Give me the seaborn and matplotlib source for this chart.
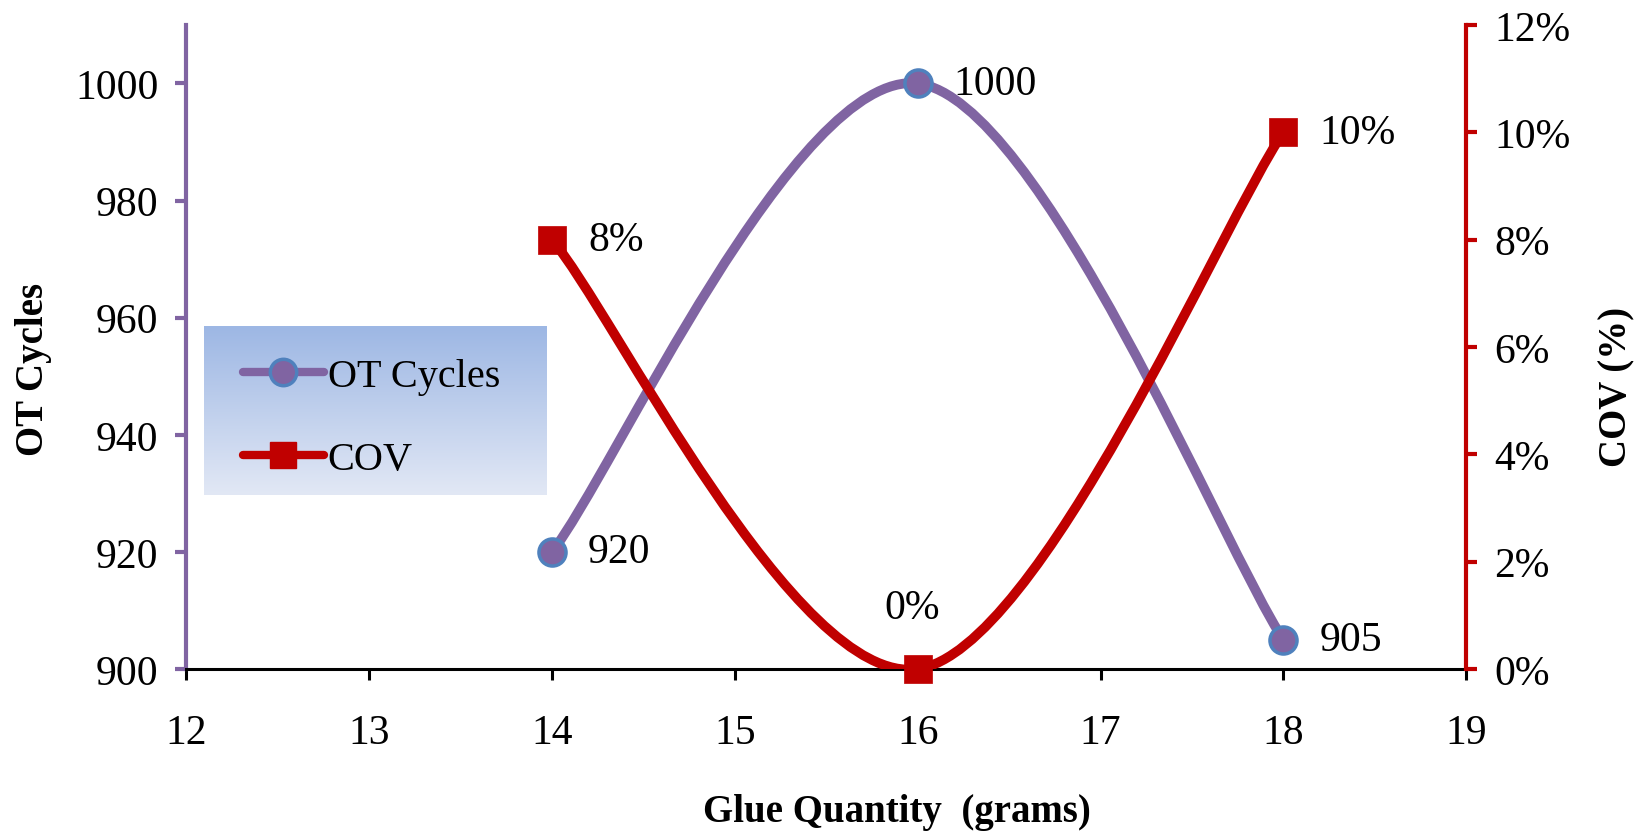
import numpy as np
import matplotlib
matplotlib.use("Agg")
import matplotlib.pyplot as plt
import seaborn as sns
import pandas as pd
from matplotlib.path import Path
from matplotlib.patches import PathPatch
from matplotlib.lines import Line2D
from matplotlib.ticker import PercentFormatter

# --- data ---
glue_grams = [14, 16, 18]
ot_cycles = [920, 1000, 905]
cov = [0.08, 0.00, 0.10]
cycle_labels = ["920", "1000", "905"]
cov_labels = ["8%", "0%", "10%"]
x_ticks = [12, 13, 14, 15, 16, 17, 18, 19]
cycle_ticks = [900, 920, 940, 960, 980, 1000]
cov_ticks = [0.00, 0.02, 0.04, 0.06, 0.08, 0.10, 0.12]

PURPLE = "#8064A2"
EDGE_BLUE = "#4F81BD"
RED = "#C00000"
FS = 30
LABEL_FS = 28

sns.set_theme(style="white")
plt.rcParams["font.family"] = ["Liberation Serif", "DejaVu Serif"]
plt.rcParams.update({
    "text.color": "black",
    "axes.labelcolor": "black",
    "xtick.color": "black",
    "ytick.color": "black",
})


def smooth_path(xs, ys):
    """Cubic Bezier path through the points (Catmull-Rom style smoothing)."""
    pts = np.column_stack([xs, ys]).astype(float)
    n = len(pts)
    verts = [pts[0]]
    codes = [Path.MOVETO]
    for i in range(n - 1):
        p_prev = pts[max(i - 1, 0)]
        p0, p1 = pts[i], pts[i + 1]
        p_next = pts[min(i + 2, n - 1)]
        c1 = p0 + (p1 - p_prev) / 6.0
        c2 = p1 - (p_next - p0) / 6.0
        verts += [c1, c2, p1]
        codes += [Path.CURVE4] * 3
    return Path(verts, codes)


df = pd.DataFrame({"glue": glue_grams, "cycles": ot_cycles, "cov": cov})

fig = plt.figure(figsize=(16.42, 8.37), dpi=100)
ax = fig.add_axes([0.1134, 0.1995, 0.7796, 0.7695])
ax2 = ax.twinx()

# OT cycles curve and markers
ax.add_patch(PathPatch(smooth_path(glue_grams, ot_cycles), facecolor="none",
                       edgecolor=PURPLE, lw=7, capstyle="round", zorder=2))
sns.scatterplot(data=df, x="glue", y="cycles", ax=ax, s=19.5 ** 2,
                color=PURPLE, edgecolor=EDGE_BLUE, linewidth=2.5, zorder=3,
                legend=False, clip_on=False)

# COV curve and markers (drawn above the cycles axis)
ax2.add_patch(PathPatch(smooth_path(glue_grams, cov), facecolor="none",
                        edgecolor=RED, lw=7, capstyle="round", zorder=2))
sns.scatterplot(data=df, x="glue", y="cov", ax=ax2, s=20 ** 2, marker="s",
                color=RED, edgecolor=RED, linewidth=0.5, zorder=3, legend=False,
                clip_on=False)

# value labels
for xv, yv, lab in zip(glue_grams, ot_cycles, cycle_labels):
    ax.annotate(lab, (xv, yv), xytext=(26, 0), textcoords="offset points",
                ha="left", va="center", fontsize=FS, color="black")
for xv, yv, lab in zip(glue_grams, cov, cov_labels):
    if yv == 0:
        ax2.annotate(lab, (xv, yv), xytext=(-4, 44), textcoords="offset points",
                     ha="center", va="center", fontsize=FS, color="black")
    else:
        ax2.annotate(lab, (xv, yv), xytext=(26, 0), textcoords="offset points",
                     ha="left", va="center", fontsize=FS, color="black")

# axes limits and ticks
ax.set_xlim(12, 19)
ax.set_ylim(900, 1010)
ax2.set_ylim(0, 0.12)
ax.set_xticks(x_ticks)
ax.set_yticks(cycle_ticks)
ax2.set_yticks(cov_ticks)
ax2.yaxis.set_major_formatter(PercentFormatter(xmax=1, decimals=0))

ax.set_xlabel("Glue Quantity  (grams)", fontsize=LABEL_FS, fontweight="bold")
ax.set_ylabel("OT Cycles", fontsize=LABEL_FS, fontweight="bold")
ax2.set_ylabel("COV (%)", fontsize=LABEL_FS, fontweight="bold", rotation=90)
ax.xaxis.set_label_coords(0.555, -0.193)
ax.yaxis.set_label_coords(-0.105, 0.467)
ax2.yaxis.set_label_coords(1.103, 0.44)

for a in (ax, ax2):
    a.grid(False)
    a.set_facecolor("none")
    for s in a.spines.values():
        s.set_visible(False)

ax.spines["left"].set_visible(True)
ax.spines["left"].set_color(PURPLE)
ax.spines["left"].set_linewidth(3)
ax.spines["bottom"].set_visible(True)
ax.spines["bottom"].set_color("black")
ax.spines["bottom"].set_linewidth(2.2)
ax2.spines["right"].set_visible(True)
ax2.spines["right"].set_color(RED)
ax2.spines["right"].set_linewidth(3)

ax.tick_params(axis="y", direction="out", length=8, width=3, color=PURPLE,
               labelcolor="black", labelsize=FS, pad=12, left=True)
ax.tick_params(axis="x", direction="out", length=8, width=2.2, color="black",
               labelcolor="black", labelsize=FS, pad=24, bottom=True)
ax2.tick_params(axis="y", direction="out", length=8, width=3, color=RED,
                labelcolor="black", labelsize=FS, pad=12, right=True)

# legend on a gradient panel
leg_ax = fig.add_axes([204 / 1642, 1 - 496 / 837, 342 / 1642, 169 / 837])
top_rgb = np.array([157, 183, 228]) / 255
bot_rgb = np.array([226, 232, 245]) / 255
t = np.linspace(0, 1, 256)[:, None]
grad = (top_rgb[None, :] * (1 - t) + bot_rgb[None, :] * t)[:, None, :]
leg_ax.imshow(grad, extent=[0, 1, 0, 1], aspect="auto", origin="upper")
leg_ax.set_axis_off()
handles = [
    Line2D([], [], color=PURPLE, lw=6, marker="o", markersize=19,
           markerfacecolor=PURPLE, markeredgecolor=EDGE_BLUE, markeredgewidth=2.5,
           solid_capstyle="round"),
    Line2D([], [], color=RED, lw=6, marker="s", markersize=19,
           markerfacecolor=RED, markeredgecolor=RED, solid_capstyle="round"),
]
leg_ax.legend(handles, ["OT Cycles", "COV"], loc="center left",
              bbox_to_anchor=(0.055, 0.457), frameon=False, fontsize=29,
              handlelength=2.0, handletextpad=0.1, labelspacing=1.15,
              borderpad=0)

fig.savefig("out.png", dpi=100)
